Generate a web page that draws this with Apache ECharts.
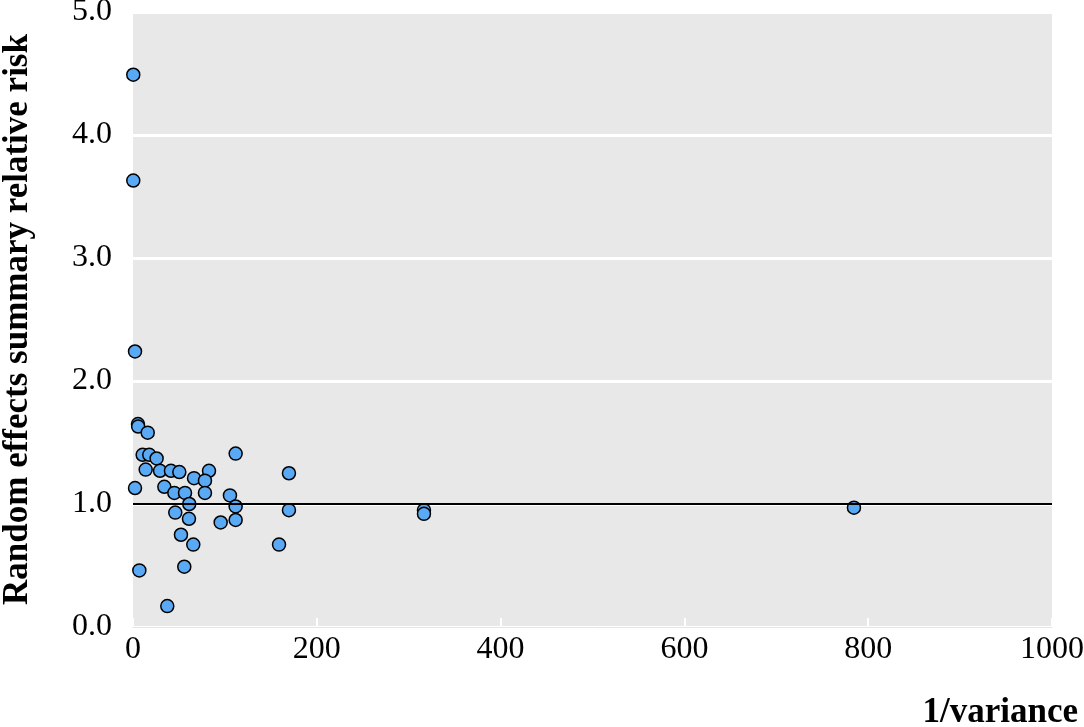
<!DOCTYPE html>
<html>
<head>
<meta charset="utf-8">
<script src="https://cdn.jsdelivr.net/npm/echarts@6/dist/echarts.min.js"></script>
<style>
html,body{margin:0;padding:0;background:#fff;}
#chart{width:1084px;height:727px;}
</style>
</head>
<body>
<div id="chart"></div>
<script>
// 1/variance (x) and random effects summary relative risk (y) per study
const inverseVariance = [0.3, 0.3, 2.2, 5.4, 5.6, 16, 10.5, 17.7, 25.7, 111.7, 13.8, 29.4, 41.3, 50.4, 82.7, 169.7, 66.4, 78.3, 2.2, 34.1, 45, 56.6, 78.3, 105.5, 61.2, 111.7, 169.7, 46, 60.9, 95.4, 111.7, 52.2, 65.6, 158.9, 6.9, 55.8, 37.3, 316.6, 316.6, 784.5];
const relativeRisk    = [4.49, 3.63, 2.24, 1.65, 1.63, 1.58, 1.40, 1.40, 1.37, 1.41, 1.28, 1.27, 1.27, 1.26, 1.27, 1.25, 1.21, 1.19, 1.13, 1.14, 1.09, 1.09, 1.09, 1.07, 1.00, 0.98, 0.95, 0.93, 0.88, 0.85, 0.87, 0.75, 0.67, 0.67, 0.46, 0.49, 0.17, 0.95, 0.92, 0.97];
const xTicks = [0, 200, 400, 600, 800, 1000];
const yTicks = [0, 1, 2, 3, 4, 5];
const referenceRR = 1.0;
const xAxisTitle = '1/variance';
const yAxisTitle = 'Random effects summary relative risk';

const points = inverseVariance.map((x, i) => [x, relativeRisk[i]]);
const font = 'Liberation Serif';

const chart = echarts.init(document.getElementById('chart'), null, {renderer: 'canvas'});
chart.setOption({
  animation: false,
  backgroundColor: '#ffffff',
  grid: {
    left: 133, right: 32, top: 12, bottom: 100,
    containLabel: false,
    outerBoundsMode: 'none',
    show: true, backgroundColor: '#e8e8e8', borderWidth: 0
  },
  xAxis: {
    type: 'value',
    min: xTicks[0], max: xTicks[xTicks.length - 1], interval: 200,
    name: xAxisTitle,
    nameLocation: 'end',
    nameGap: 26,
    nameTextStyle: {
      fontFamily: font, fontWeight: 'bold', fontSize: 35, color: '#000',
      align: 'right', verticalAlign: 'top', padding: [68, 0, 0, 0]
    },
    axisLine: {show: true, lineStyle: {color: '#e4e4e4', width: 1}},
    axisTick: {show: true, inside: true, length: 9, lineStyle: {color: '#ffffff', width: 2}},
    splitLine: {show: false},
    axisLabel: {fontFamily: font, fontSize: 32, color: '#000', margin: 7, formatter: v => String(v)}
  },
  yAxis: {
    type: 'value',
    min: yTicks[0], max: yTicks[yTicks.length - 1], interval: 1,
    name: yAxisTitle,
    nameLocation: 'middle',
    nameRotate: 90,
    nameGap: 98,
    nameTextStyle: {fontFamily: font, fontWeight: 'bold', fontSize: 35, color: '#000'},
    axisLine: {show: false},
    axisTick: {show: false},
    splitLine: {show: true, lineStyle: {color: '#ffffff', width: 3}},
    axisLabel: {
      fontFamily: font, fontSize: 32, color: '#000', margin: 21,
      formatter: v => v.toFixed(1)
    }
  },
  series: [{
    type: 'scatter',
    data: points,
    symbol: 'circle',
    symbolSize: 13,
    clip: false,
    itemStyle: {color: '#5aa9f5', borderColor: '#000', borderWidth: 1.5, opacity: 1},
    markLine: {
      silent: true,
      symbol: ['none', 'none'],
      label: {show: false},
      lineStyle: {color: '#000', width: 2, type: 'solid'},
      data: [{yAxis: referenceRR}]
    },
    z: 3
  }]
});
</script>
</body>
</html>
